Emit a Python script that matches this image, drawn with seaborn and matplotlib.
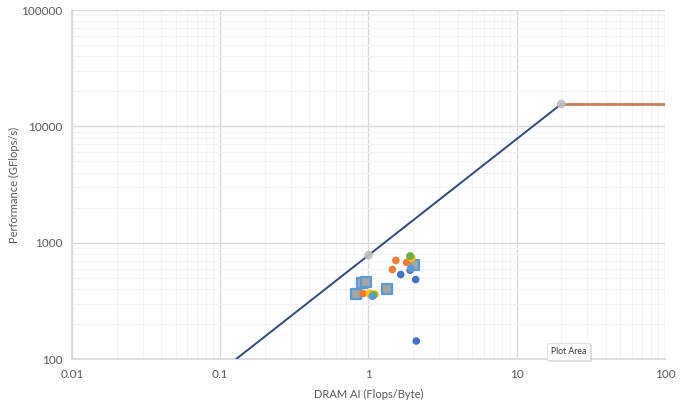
import matplotlib
matplotlib.use("Agg")
import matplotlib.pyplot as plt
import matplotlib.ticker as mticker
import matplotlib.patheffects as pe
import seaborn as sns

# Roofline: memory-bound slope up to the ridge, then the compute ceiling
roof_ai = [0.128, 20.0]
roof_perf = [100.0, 15600.0]
ceiling_ai = [20.0, 100.0]
ceiling_perf = [15600.0, 15600.0]
roof_marker_ai = [1.0, 20.0]
roof_marker_perf = [780.0, 15600.0]

# Measured kernels
blue_ai = [1.65, 1.91, 2.08, 2.10]
blue_perf = [533, 581, 483, 143]
orange_ai = [1.53, 1.45, 1.81, 0.92]
orange_perf = [705, 589, 677, 366]
square_ai = [0.82, 0.90, 0.96, 1.34, 2.02]
square_perf = [361, 447, 456, 397, 640]
yellow_ai = [1.02, 1.10, 1.95]
yellow_perf = [366, 360, 740]
green_ai = [1.08, 1.91]
green_perf = [355, 767]
lightblue_ai = [1.06, 1.93]
lightblue_perf = [347, 600]

x_ticks = [0.01, 0.1, 1, 10, 100]
x_tick_labels = ["0.01", "0.1", "1", "10", "100"]
y_ticks = [100, 1000, 10000, 100000]
y_tick_labels = ["100", "1000", "10000", "100000"]

sns.set_theme(style="white")
plt.rcParams["font.family"] = ["Lato", "DejaVu Sans"]

fig = plt.figure(figsize=(6.94, 4.03), dpi=100)
ax = fig.add_axes([0.1037, 0.109, 0.8545, 0.866])
ax.set_xscale("log")
ax.set_yscale("log")

BLUE = "#4472C4"
ORANGE = "#ED7D31"
GRAY = "#A5A5A5"
YELLOW = "#FFC000"
LBLUE = "#5B9BD5"
GREEN = "#70AD47"

sns.lineplot(x=roof_ai, y=roof_perf, ax=ax, color="#2F4A7C", lw=1.4, zorder=3)
sns.lineplot(x=ceiling_ai, y=ceiling_perf, ax=ax, color="#C5835A", lw=2.0, zorder=3)
sns.scatterplot(x=roof_marker_ai, y=roof_marker_perf, ax=ax, color="#BFBFBF",
                s=40, marker="o", edgecolor="none", alpha=0.9, zorder=4)

sns.scatterplot(x=square_ai, y=square_perf, ax=ax, color=GRAY, marker="s",
                s=45, edgecolor=LBLUE, linewidth=1.6, zorder=4)
sns.scatterplot(x=blue_ai, y=blue_perf, ax=ax, color=BLUE, marker="o",
                s=30, edgecolor="none", zorder=5)
sns.scatterplot(x=orange_ai, y=orange_perf, ax=ax, color=ORANGE, marker="o",
                s=30, edgecolor="none", zorder=5)
sns.scatterplot(x=yellow_ai, y=yellow_perf, ax=ax, color=YELLOW, marker="o",
                s=36, edgecolor="none", zorder=5)
sns.scatterplot(x=green_ai, y=green_perf, ax=ax, color=GREEN, marker="o",
                s=34, edgecolor="none", zorder=6)
sns.scatterplot(x=lightblue_ai, y=lightblue_perf, ax=ax, color=LBLUE, marker="o",
                s=30, edgecolor="none", zorder=6)

ax.set_xlim(0.01, 100)
ax.set_ylim(100, 100000)
ax.set_xticks(x_ticks)
ax.set_xticklabels(x_tick_labels)
ax.set_yticks(y_ticks)
ax.set_yticklabels(y_tick_labels)
ax.xaxis.set_minor_locator(mticker.LogLocator(base=10, subs=range(2, 10), numticks=20))
ax.yaxis.set_minor_locator(mticker.LogLocator(base=10, subs=range(2, 10), numticks=20))
ax.xaxis.set_minor_formatter(mticker.NullFormatter())
ax.yaxis.set_minor_formatter(mticker.NullFormatter())

ax.grid(True, which="major", color="#D9D9D9", lw=1.0, zorder=0)
ax.grid(True, which="minor", color="#F3F3F3", lw=0.8, zorder=0)
ax.set_axisbelow(True)

for side in ["top", "right"]:
    ax.spines[side].set_visible(False)
ax.spines["left"].set_color("#D9D9D9")
ax.spines["bottom"].set_color("#D9D9D9")

ax.tick_params(axis="both", which="major", length=3, color="#D9D9D9",
               labelsize=8.5, labelcolor="#595959", pad=4)
ax.tick_params(axis="both", which="minor", length=0)

ax.set_xlabel("DRAM AI (Flops/Byte)", fontsize=8, color="#595959")
ax.set_ylabel("Performance (GFlops/s)", fontsize=8, color="#595959")
ax.xaxis.set_label_coords(0.5, -0.085)
ax.yaxis.set_label_coords(-0.088, 0.5)

# hover tip over the plot area
ax.text(0.794, 0.116, "Plot Area", transform=fig.transFigure, fontsize=6.2,
        color="#333333", ha="left", va="bottom", zorder=10,
        bbox=dict(boxstyle="square,pad=0.45", fc="white", ec="#DADADA", lw=0.6,
                  path_effects=[pe.withSimplePatchShadow(offset=(1, -1),
                                                         shadow_rgbFace="#BBBBBB",
                                                         alpha=0.5)]))

fig.savefig("out.png", dpi=100)
